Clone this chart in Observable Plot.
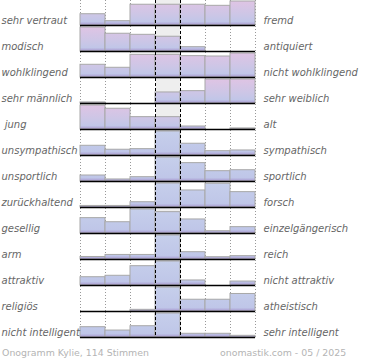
<!DOCTYPE html>
<html><head><meta charset="utf-8">
<script src="https://cdn.jsdelivr.net/npm/d3@7"></script>
<script src="https://cdn.jsdelivr.net/npm/@observablehq/plot@0.6"></script>
<style>
body{margin:0;background:#fff;}
#chart{position:relative;width:370px;height:360px;overflow:hidden;}
svg text{white-space:pre;}
.foot{position:absolute;top:348px;font-family:"DejaVu Sans";font-size:9.4px;color:#b4b4b4;line-height:1;white-space:nowrap;}
</style></head><body><div id="chart"></div>
<script>
const leftLabels = ["sehr vertraut","modisch","wohlklingend","sehr männlich"," jung","unsympathisch","unsportlich","zurückhaltend","gesellig","arm","attraktiv","religiös","nicht intelligent"];
const rightLabels = ["fremd","antiquiert","nicht wohlklingend","sehr weiblich","alt","sympathisch","sportlich","forsch","einzelgängerisch","reich","nicht attraktiv","atheistisch","sehr intelligent"];
// share of votes (%) for the 7 scale steps of each row
const shares = [
  [9.4, 3.6, 17.3, 17.3, 17.3, 16.4, 20],
  [20, 14.8, 13.9, 12.3, 3.6, 0, 0],
  [10.6, 8.1, 18.9, 18.9, 17.8, 17.5, 20],
  [0.9, 0, 0, 9.2, 10.3, 20, 20],
  [20, 17.3, 10.3, 10.3, 2.5, 0, 0.9],
  [8.1, 4.8, 5.3, 64.2, 9.8, 3.6, 4.2],
  [5, 1.7, 3.6, 56.4, 15.3, 8.6, 9.4],
  [1.3, 1.3, 4.4, 46.2, 14.2, 19.8, 12.8],
  [12.8, 9.4, 41.1, 17.8, 11.7, 1.9, 5.3],
  [2.1, 3.8, 3.8, 79.5, 6.1, 1.9, 2.8],
  [6.9, 8.1, 16.1, 61.4, 4.2, 0, 3.3],
  [0, 0, 1.4, 64.4, 9.8, 9.8, 14.6],
  [8.6, 5.8, 9.4, 68.6, 3.1, 3.1, 1.4]
];
const steps = [1,2,3,4,5,6,7];
const footLeft = "Onogramm Kylie, 114 Stimmen";
const footRight = "onomastik.com - 05 / 2025";

const yMax = 20;
const data = [];
leftLabels.forEach((l, i) => {
  const clipped = d3.max(shares[i]) > yMax;
  steps.forEach((s, j) => data.push({row: l, col: s, value: shares[i][j], clipped}));
});
const rows = leftLabels.map((l, i) => ({row: l, left: l, right: rightLabels[i]}));

const textStyle = {fontFamily: "DejaVu Sans", fontStyle: "italic", fontSize: 10, fill: "#666"};

const plot = Plot.plot({
  width: 370, height: 340,
  marginLeft: 80, marginRight: 115, marginTop: 0, marginBottom: 2,
  x: {domain: [0, 7], axis: null},
  y: {domain: [0, yMax], clamp: true, axis: null, insetTop: 1, insetBottom: 1},
  fy: {domain: leftLabels, padding: 0, axis: null},
  style: {background: "white", overflow: "visible"},
  marks: [
    Plot.ruleX([3.5], {stroke: "#eeeeee", strokeWidth: 25}),
    Plot.ruleX([0, 1, 2, 5, 6, 7], {stroke: "#999", strokeDasharray: "1,2", strokeWidth: 1}),
    Plot.rect(data, {filter: d => !d.clipped && d.value > 0, fy: "row", x1: d => d.col - 1, x2: "col", y1: 0, y2: "value", fill: "url(#gPink)", stroke: "#a8a8a8", strokeWidth: 1}),
    Plot.rect(data, {filter: d => d.clipped && d.value > 0, fy: "row", x1: d => d.col - 1, x2: "col", y1: 0, y2: "value", fill: "url(#gBlue)", stroke: "#a8a8a8", strokeWidth: 1}),
    Plot.ruleY([0], {stroke: "#000", strokeWidth: 1.6}),
    Plot.ruleX([3, 4], {stroke: "#000", strokeDasharray: "3,2", strokeWidth: 1}),
    Plot.text(rows, {fy: "row", text: "left", frameAnchor: "bottom-left", lineAnchor: "bottom", textAnchor: "start", dx: -79, dy: -3, ...textStyle}),
    Plot.text(rows, {fy: "row", text: "right", frameAnchor: "bottom-right", lineAnchor: "bottom", textAnchor: "start", dx: 8, dy: -3, ...textStyle})
  ]
});

const defs = document.createElementNS("http://www.w3.org/2000/svg", "defs");
defs.innerHTML = `
<linearGradient id="gPink" gradientUnits="userSpaceOnUse" x1="0" y1="1" x2="0" y2="25">
  <stop offset="0" stop-color="#dfc4e4"/>
  <stop offset="0.55" stop-color="#cdc6e6"/>
  <stop offset="0.86" stop-color="#c1c6e8"/>
  <stop offset="1" stop-color="#a898cf"/>
</linearGradient>
<linearGradient id="gBlue" gradientUnits="userSpaceOnUse" x1="0" y1="1" x2="0" y2="25">
  <stop offset="0" stop-color="#c6cfeb"/>
  <stop offset="0.86" stop-color="#bfc6e8"/>
  <stop offset="1" stop-color="#a898cf"/>
</linearGradient>`;
plot.insertBefore(defs, plot.firstChild);

const chart = document.getElementById("chart");
chart.appendChild(plot);
const f1 = document.createElement("div");
f1.className = "foot"; f1.style.left = "2px"; f1.textContent = footLeft;
const f2 = document.createElement("div");
f2.className = "foot"; f2.style.left = "220px"; f2.textContent = footRight;
chart.appendChild(f1); chart.appendChild(f2);
</script></body></html>
